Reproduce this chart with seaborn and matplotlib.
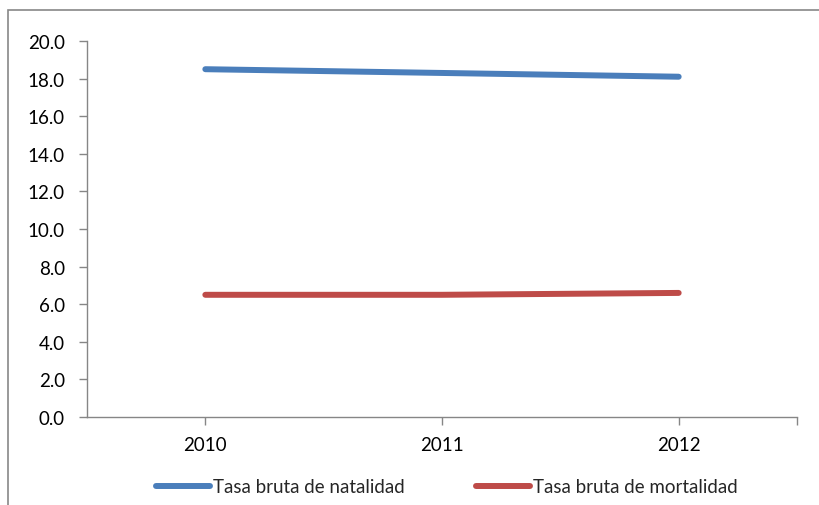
import matplotlib
matplotlib.use("Agg")
import matplotlib.pyplot as plt
import seaborn as sns
import pandas as pd
from matplotlib.patches import Rectangle
from matplotlib.lines import Line2D

years = ["2010", "2011", "2012"]
natalidad = [18.5, 18.3, 18.1]
mortalidad = [6.5, 6.5, 6.6]
series_names = ["Tasa bruta de natalidad", "Tasa bruta de mortalidad"]
colors = ["#4A7EBB", "#BE4B48"]
yticks = [0, 2, 4, 6, 8, 10, 12, 14, 16, 18, 20]

sns.set_style("white")
plt.rcParams["font.family"] = ["Lato", "DejaVu Sans"]

df = pd.DataFrame({
    "x": list(range(len(years))) * 2,
    "value": natalidad + mortalidad,
    "serie": [series_names[0]] * 3 + [series_names[1]] * 3,
})

fs = 13.5
fig = plt.figure(figsize=(8.2, 5.06), dpi=100)
ax = fig.add_axes([87/820, 1 - 418/506, (797-87)/820, (418-42)/506])

sns.lineplot(data=df, x="x", y="value", hue="serie", palette=colors,
             linewidth=4.3, ax=ax, legend=False, solid_capstyle="round")

ax.set_xlim(-0.5, 2.5)
ax.set_ylim(0, 20)
ax.set_yticks(yticks)
ax.set_yticklabels([f"{v:.1f}" for v in yticks], fontsize=fs)
ax.set_xticks([0, 1, 2, 2.5])
ax.set_xticklabels(years + [""], fontsize=fs)
ax.set_xlabel("")
ax.set_ylabel("")

axis_color = "#868686"
for s in ["top", "right"]:
    ax.spines[s].set_visible(False)
for s in ["left", "bottom"]:
    ax.spines[s].set_color(axis_color)
    ax.spines[s].set_linewidth(1)
ax.tick_params(axis="both", which="major", direction="out", length=6,
               width=1, color=axis_color, labelcolor="black",
               bottom=True, left=True)
ax.tick_params(axis="y", pad=10)
ax.tick_params(axis="x", pad=8)

handles = [Line2D([0], [0], color=c, lw=4.3, solid_capstyle="round") for c in colors]
fig.legend(handles, series_names, loc="center", bbox_to_anchor=(0.545, 1 - 488/506),
           ncol=2, frameon=False, fontsize=fs, handlelength=2.9,
           handletextpad=0.15, columnspacing=3.8)

fig.patches.append(Rectangle((8/820, -0.1), 1.2, 1 - 11/506 + 0.1,
                             transform=fig.transFigure, fill=False,
                             edgecolor="#888888", linewidth=1.2))

fig.savefig("out.png", dpi=100)
